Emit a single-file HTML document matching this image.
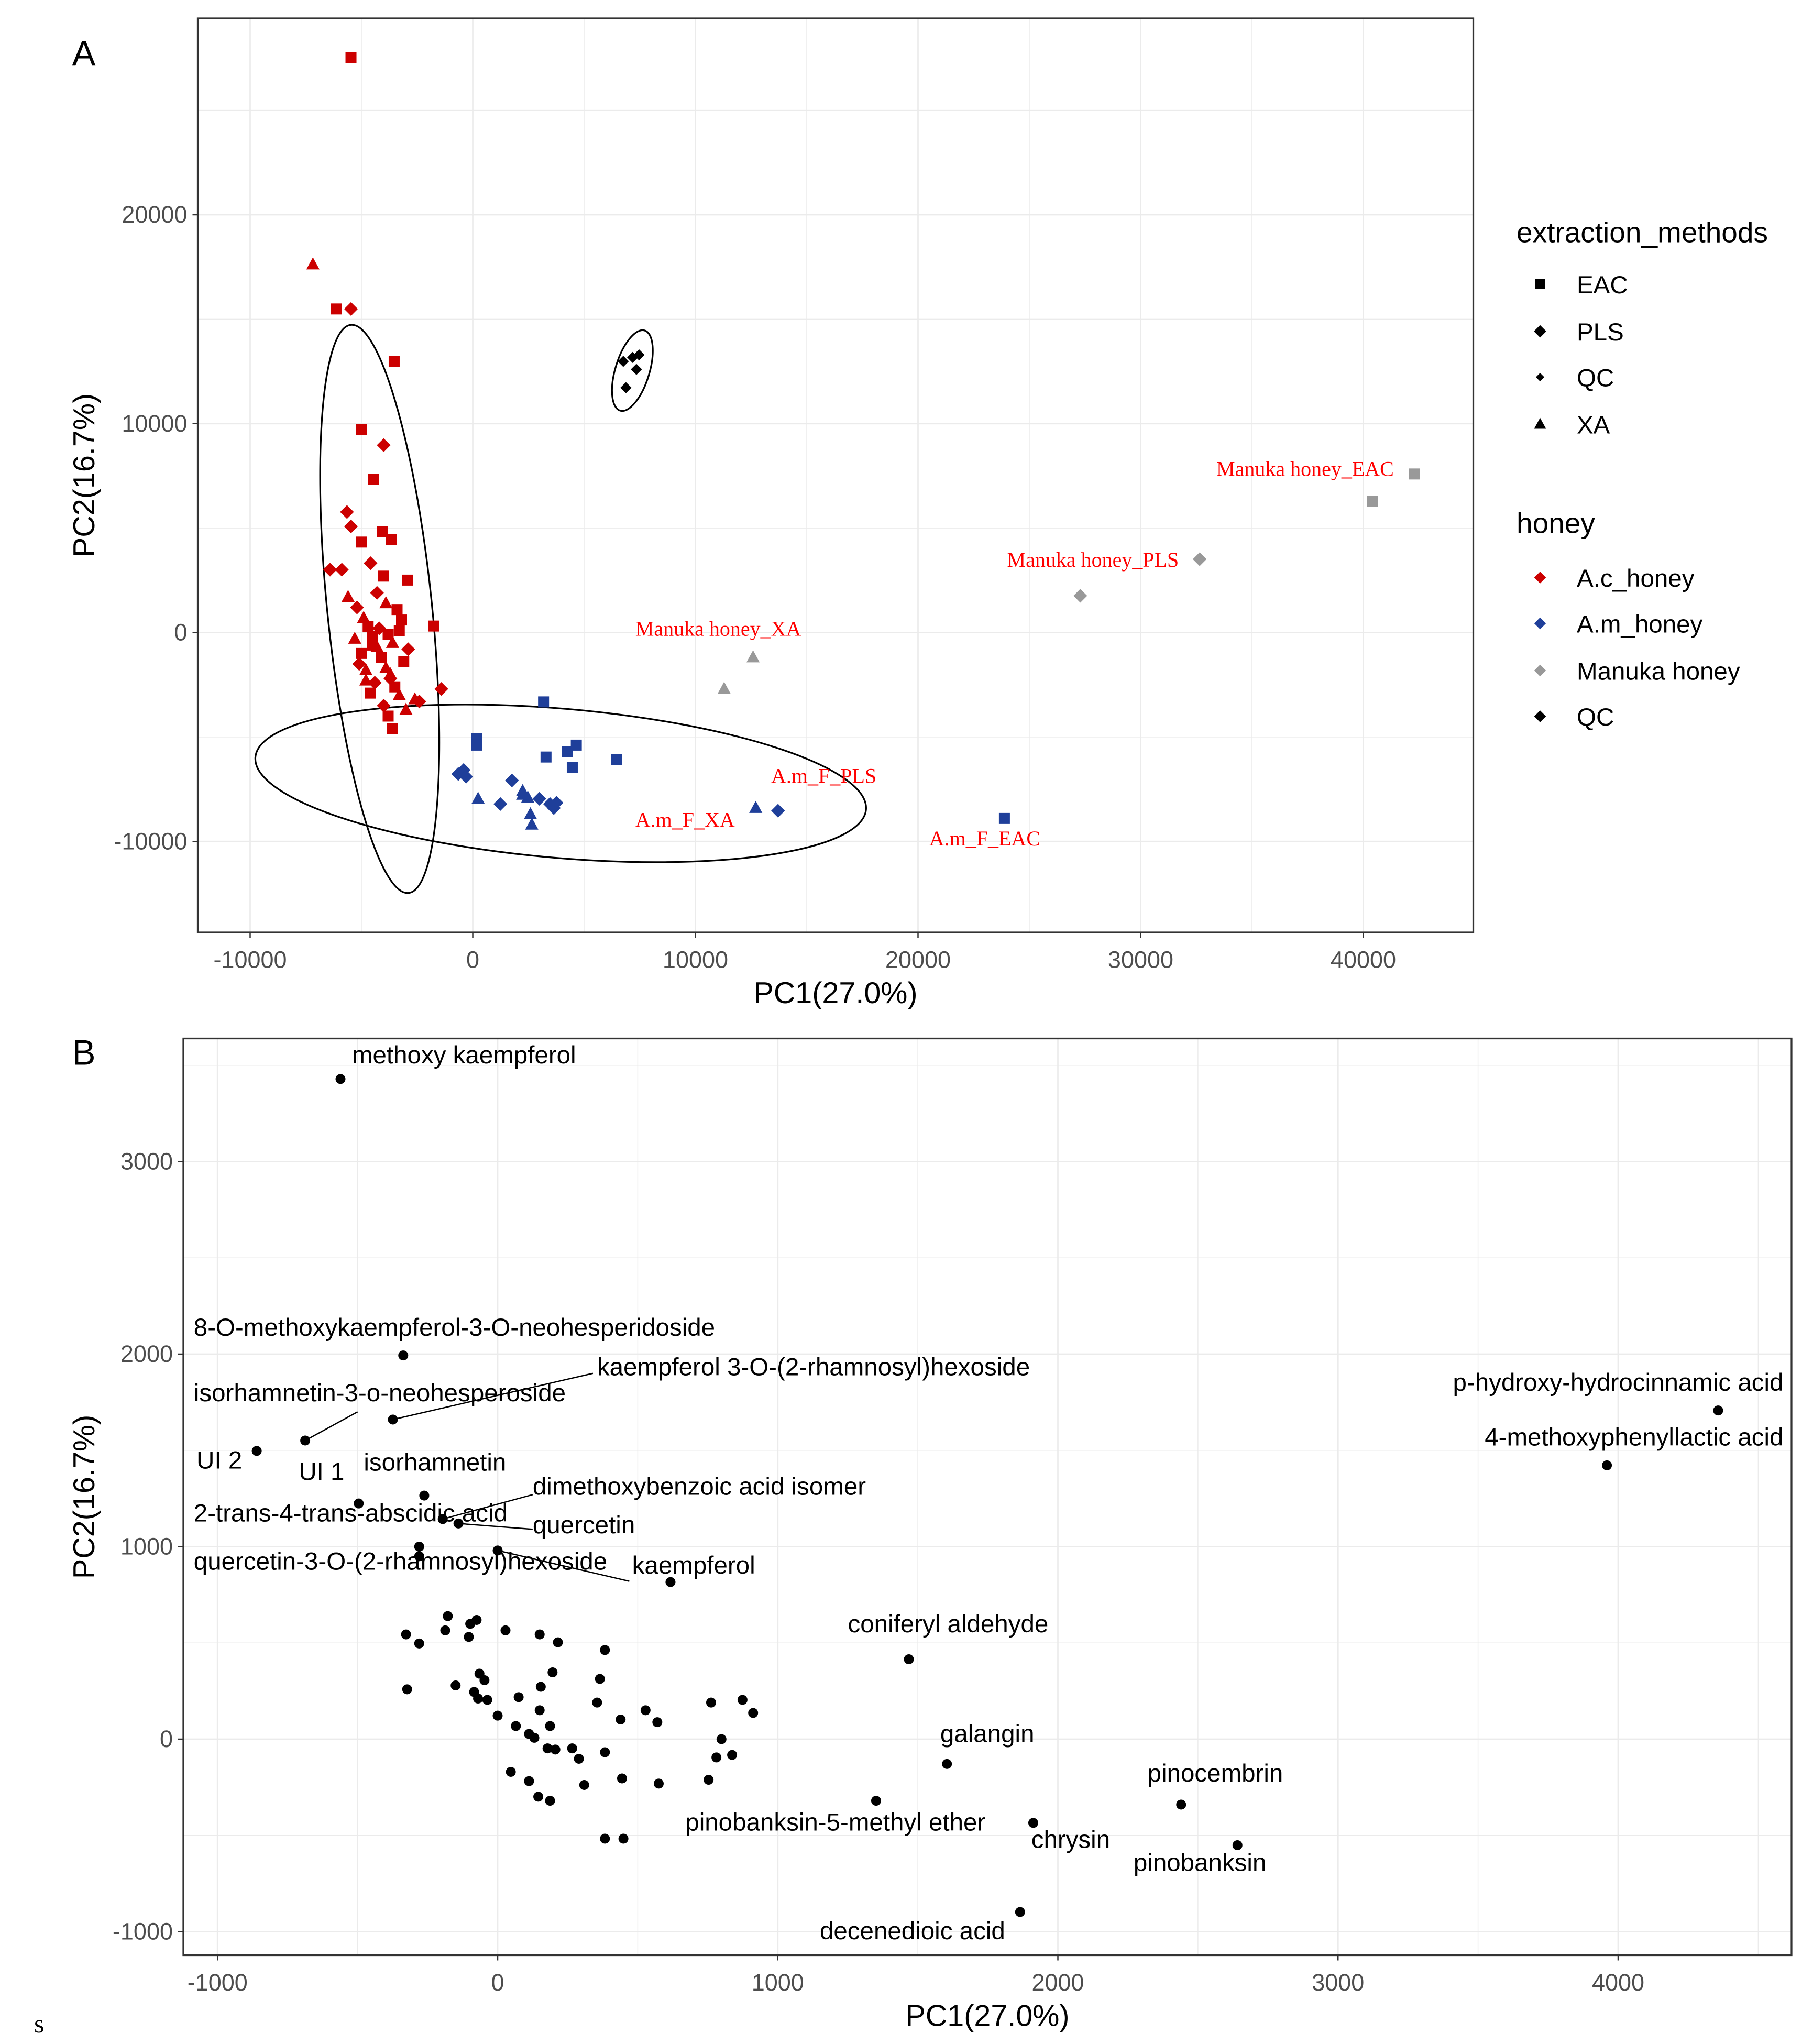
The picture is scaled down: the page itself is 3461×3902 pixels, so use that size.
<!DOCTYPE html>
<html><head><meta charset="utf-8"><style>
html,body{margin:0;padding:0;background:#fff}
svg{display:block}
</style></head><body>
<svg id="fig" width="3461" height="3902" viewBox="0 0 1384.4 1560.8" xmlns="http://www.w3.org/2000/svg" font-family="Liberation Sans, sans-serif">
<rect width="1384.4" height="1560.8" fill="#fff"/>
<g id="pA"></g>
<g id="pB"></g>
<text x="26" y="1552" style="font-family:'Liberation Serif',serif" font-size="20">s</text>
</svg>
<script>
// ---------- Panel A data ----------
const aXTicks = [-10000, 0, 10000, 20000, 30000, 40000];
const aYTicks = [-10000, 0, 10000, 20000];
const acX = [-5470,-7180,-6120,-5470,-3530,-5000,-4000,-4470,-5650,-5470,-4060,-3650,-5000,-6410,-5880,-4000,-4590,-2940,-1760,-1410,
 -5600,-5200,-4900,-4700,-4500,-4300,-4100,-3900,-3700,-3500,-3300,-3100,-2900,-2600,-5300,-5000,-4800,-4400,-4200,-3800,-3600,-3400,-3200,-4600,-4000,-3800,-3000,-2400,-4300,-3900,-3600,-3700,-4800,-5100,-4500,-3300];
const acY = [27520,17620,15490,15490,12980,9720,8970,7340,5770,5080,4830,4450,4330,3010,3010,2700,3320,2510,310,-2700,
 1700,1200,700,300,-200,-700,-1200,-1700,-2200,-2600,-3000,-1400,-800,-3200,-300,-1000,-1800,-2400,200,-100,-500,1100,600,-2900,-3500,-4000,-3700,-3300,1900,1400,-4600,-2000,-2300,-1500,-600,100];
const acShape = ['s','t','s','d','s','s','d','s','d','d','s','s','s','d','d','s','d','s','s','d',
 't','d','t','s','s','t','s','t','d','s','t','s','d','t','t','s','t','d','d','s','t','s','s','s','d','s','t','d','d','t','s','t','t','d','s','s'];
const amX = [3180,180,180,3290,4240,4650,4470,6470,-410,-650,-300,240,1240,1760,2240,2470,2590,2650,2240,2990,3470,3760,3640,12710,13710,23880];
const amY = [-3320,-5080,-5390,-5960,-5700,-5390,-6460,-6080,-6580,-6770,-6900,-7960,-8210,-7080,-7590,-7900,-8700,-9200,-7770,-7960,-8210,-8150,-8400,-8400,-8530,-8900];
const amShape = ['s','s','s','s','s','s','s','s','d','d','d','t','d','d','t','t','t','t','t','d','d','d','d','t','d','s'];
const mhX = [11290,12590,27290,32650,40410,42290];
const mhY = [-2700,-1190,1760,3510,6270,7590];
const mhShape = ['t','t','d','d','s','s'];
const qcX = [6760,7180,7470,6880,7350];
const qcY = [12980,13170,13290,11720,12600];
const aLabels = ['Manuka honey_EAC','Manuka honey_PLS','Manuka honey_XA','A.m_F_PLS','A.m_F_XA','A.m_F_EAC'];
const aLabelX = [33400,24000,7300,13400,7300,20500];
const aLabelY = [7500,3150,-150,-7200,-9300,-10200];

// ---------- Panel B data ----------
const bXTicks = [-1000, 0, 1000, 2000, 3000, 4000];
const bYTicks = [-1000, 0, 1000, 2000, 3000];
const bX = [-561,-337,-374,-687,-860,-496,-262,-196,-280,-280,0,617,1468,1604,2440,1351,1912,2641,1865,4357,3960,-140,
 -327,-178,-280,-98,-75,-103,28,150,215,383,-187,-323,-150,-84,-65,-47,-37,-70,0,75,65,112,131,150,154,196,187,178,206,266,290,355,365,383,439,444,528,570,575,47,112,145,187,309,383,449,762,799,781,837,753,874,912];
const bY = [3429,1993,1660,1551,1497,1224,1265,1143,1000,950,980,816,415,-129,-340,-320,-435,-551,-898,1707,1422,1120,
 544,639,497,599,619,531,565,544,503,463,565,259,279,245,340,306,204,211,122,218,68,27,7,150,272,347,68,-48,-54,-48,-102,190,313,-68,102,-204,150,88,-231,-170,-218,-299,-320,-238,-517,-517,190,0,-95,-82,-211,204,136];
const bLabels = ['methoxy kaempferol','8-O-methoxykaempferol-3-O-neohesperidoside','kaempferol 3-O-(2-rhamnosyl)hexoside','isorhamnetin-3-o-neohesperoside','UI 2','UI 1','isorhamnetin','dimethoxybenzoic acid isomer','2-trans-4-trans-abscidic acid','quercetin-3-O-(2-rhamnosyl)hexoside','kaempferol','coniferyl aldehyde','galangin','pinocembrin','pinobanksin-5-methyl ether','chrysin','pinobanksin','decenedioic acid','p-hydroxy-hydrocinnamic acid','4-methoxyphenyllactic acid','quercetin'];
const bLabX = [-520,-1085,355,-1085,-1075,-710,-478,125,-1085,-1085,480,1250,1580,2320,670,1905,2270,1150,4590,4590,125];
const bLabY = [3510,2095,1890,1755,1405,1345,1395,1270,1130,880,860,555,-15,-220,-475,-565,-685,-1040,1810,1525,1070];
const bLabAnchor = ['start','start','start','start','start','start','start','start','start','start','start','start','start','start','start','start','start','start','end','end','start'];
const bLineFrom = [[-374,1660],[-687,1551],[-196,1143],[0,980],[-140,1120]];
const bLineTo = [[340,1900],[-500,1700],[125,1270],[470,820],[125,1090]];

const NS='http://www.w3.org/2000/svg';
function mk(tag, attrs, parent){const e=document.createElementNS(NS,tag);for(const k in attrs)e.setAttribute(k,attrs[k]);parent.appendChild(e);return e;}

const axA = x => 361 + x*0.0170;
const ayA = y => 483 - y*0.01595;
const axB = x => 380 + x*0.2139;
const ayB = y => 1328 - y*0.147;

function frame(g, x0,y0,x1,y1, xT, yT, xs, ys, xStep, yStep, xLab, yLab){
  for(let v=xT[0]-xStep; v<=xT[xT.length-1]+xStep; v+=xStep/2){
    const px=xs(v); if(px<=x0||px>=x1) continue;
    const major = xT.includes(v);
    const l=mk('line',{x1:px,x2:px,y1:y0,y2:y1,stroke:'#ebebeb','stroke-width':major?1.1:0.6},g);
    
    
  }
  for(let v=yT[0]-yStep; v<=yT[yT.length-1]+yStep*2; v+=yStep/2){
    const py=ys(v); if(py<=y0||py>=y1) continue;
    const major = yT.includes(v);
    const l=mk('line',{x1:x0,x2:x1,y1:py,y2:py,stroke:'#ebebeb','stroke-width':major?1.1:0.6},g);
    
    
  }
  const r=mk('rect',{x:x0,y:y0,width:x1-x0,height:y1-y0,fill:'none',stroke:'#333','stroke-width':1.3},g);
  
  
  xT.forEach(v=>{
    const px=xs(v);
    mk('line',{x1:px,x2:px,y1:y1,y2:y1+4,stroke:'#333','stroke-width':1},g);
    const t=mk('text',{x:px,y:y1+27,'text-anchor':'middle','font-size':18,fill:'#4d4d4d'},g);
    t.textContent=v;
    
    
  });
  yT.forEach(v=>{
    const py=ys(v);
    mk('line',{x1:x0-4,x2:x0,y1:py,y2:py,stroke:'#333','stroke-width':1},g);
    const t=mk('text',{x:x0-8,y:py+6,'text-anchor':'end','font-size':18,fill:'#4d4d4d'},g);
    t.textContent=v;
    
    
  });
  const xt=mk('text',{x:(x0+x1)/2,y:y1+54,'text-anchor':'middle','font-size':23},g);
  xt.textContent=xLab;
  
  
  const cy=(y0+y1)/2;
  const yt=mk('text',{x:0,y:0,'text-anchor':'middle','font-size':23,transform:`translate(72,${cy}) rotate(-90)`},g);
  yt.textContent=yLab;
  
  
}

function shape(g, kind, px, py, color, s){
  let e;
  if(kind==='s') e=mk('rect',{x:px-s,y:py-s,width:2*s,height:2*s,fill:color},g);
  else if(kind==='d') e=mk('polygon',{points:`${px},${py-s*1.25} ${px+s*1.25},${py} ${px},${py+s*1.25} ${px-s*1.25},${py}`,fill:color},g);
  else e=mk('polygon',{points:`${px},${py-s*1.3} ${px+s*1.2},${py+s*0.9} ${px-s*1.2},${py+s*0.9}`,fill:color},g);
  return e;
}

// ---------- Panel A ----------
const gA=document.getElementById('pA');
frame(gA,151,14,1125,712,aXTicks,aYTicks,axA,ayA,10000,10000,'PC1(27.0%)','PC2(16.7%)');
const A=mk('text',{x:55,y:50,'font-size':27},gA); A.textContent='A';


const ellC=[[-4180,1130],[3950,-7220],[7170,12540]];
const ellR=[[40,218,-5.8],[234,57,4.9],[13,32,17]];
ellC.forEach((c,i)=>{
  const cx=axA(c[0]), cy=ayA(c[1]);
  const e=mk('ellipse',{cx:cx,cy:cy,rx:ellR[i][0],ry:ellR[i][1],fill:'none',stroke:'#000','stroke-width':1.3,transform:`rotate(${ellR[i][2]} ${cx} ${cy})`},gA);
  
  
});
acX.forEach((v,i)=>{const e=shape(gA,acShape[i],axA(v),ayA(acY[i]),'#cc0000',4.2);
  
  });
amX.forEach((v,i)=>{const e=shape(gA,amShape[i],axA(v),ayA(amY[i]),'#1f3f9a',4.2);
  
  });
mhX.forEach((v,i)=>{const e=shape(gA,mhShape[i],axA(v),ayA(mhY[i]),'#999999',4.2);
  
  });
qcX.forEach((v,i)=>{const e=shape(gA,'d',axA(v),ayA(qcY[i]),'#000',3.4);
  
  });
aLabels.forEach((s,i)=>{const t=mk('text',{x:axA(aLabelX[i]),y:ayA(aLabelY[i]),'font-size':16,fill:'#ff0000',style:"font-family:'Liberation Serif',serif"},gA);
  t.textContent=s;
  
  });
const leg=mk('g',{},gA);


const lt1=mk('text',{x:1158,y:185,'font-size':22},leg); lt1.textContent='extraction_methods';


const emNames=['EAC','PLS','QC','XA'], emShapes=['s','d','q','t'], emY=[217,253,288,324];
emNames.forEach((n,i)=>{
  const k=emShapes[i];
  if(k==='q') shape(leg,'d',1176,emY[i],'#000',2.6); else shape(leg,k,1176,emY[i],'#000',3.8);
  const t=mk('text',{x:1204,y:emY[i]+7,'font-size':19},leg); t.textContent=n;
  
  
});
const lt2=mk('text',{x:1158,y:407,'font-size':22},leg); lt2.textContent='honey';


const hNames=['A.c_honey','A.m_honey','Manuka honey','QC'], hCols=['#cc0000','#1f3f9a','#999999','#000'], hY=[441,476,512,547];
hNames.forEach((n,i)=>{
  shape(leg,'d',1176,hY[i],hCols[i],3.6);
  const t=mk('text',{x:1204,y:hY[i]+7,'font-size':19},leg); t.textContent=n;
  
  
});

// ---------- Panel B ----------
const gB=document.getElementById('pB');
frame(gB,140,793,1368,1493,bXTicks,bYTicks,axB,ayB,1000,1000,'PC1(27.0%)','PC2(16.7%)');
const B=mk('text',{x:55,y:813,'font-size':27},gB); B.textContent='B';


bLineFrom.forEach((f,i)=>{
  const l=mk('line',{x1:axB(f[0]),y1:ayB(f[1]),x2:axB(bLineTo[i][0]),y2:ayB(bLineTo[i][1]),stroke:'#000','stroke-width':1},gB);
  
  
});
bX.forEach((v,i)=>{
  const c=mk('circle',{cx:axB(v),cy:ayB(bY[i]),r:3.8,fill:'#000'},gB);
  
  
});
bLabels.forEach((s,i)=>{
  const t=mk('text',{x:axB(bLabX[i]),y:ayB(bLabY[i]),'font-size':19,'text-anchor':bLabAnchor[i]},gB);
  t.textContent=s;
  
  
});
</script>
</body></html>
